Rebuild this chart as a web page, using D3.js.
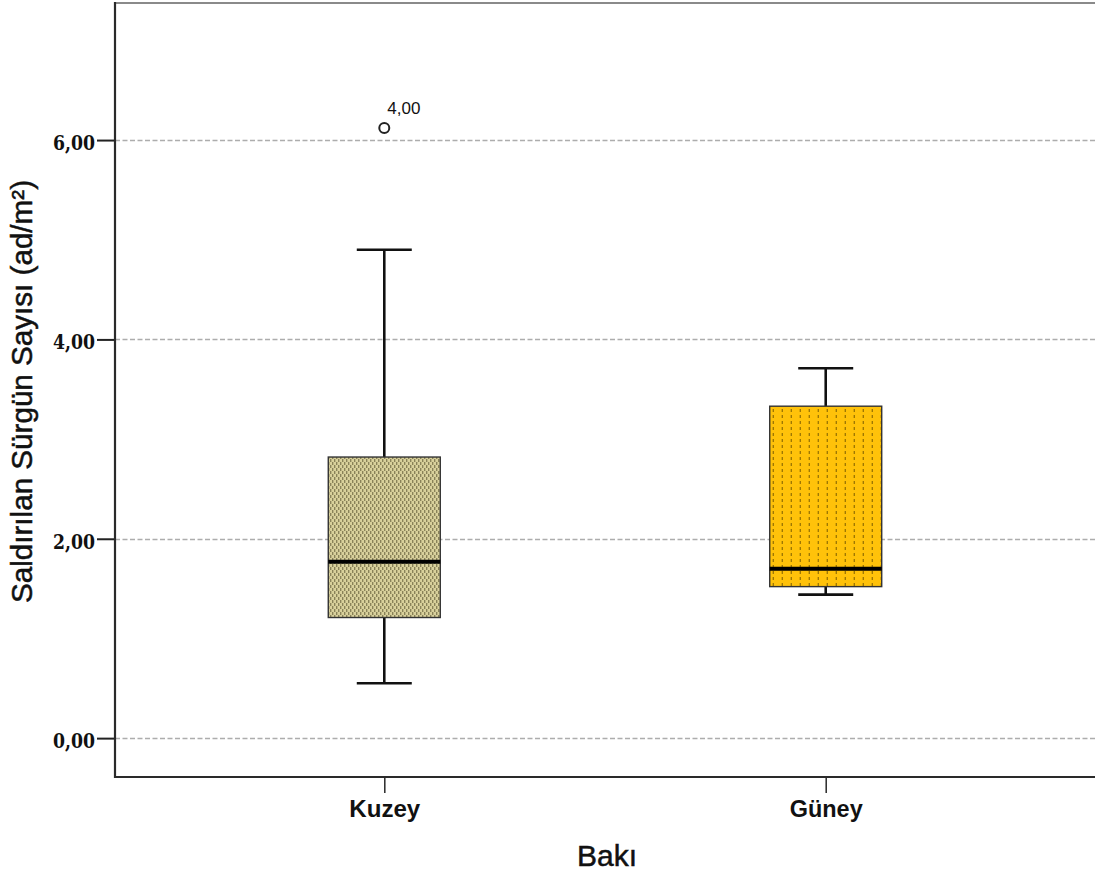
<!DOCTYPE html>
<html>
<head>
<meta charset="utf-8">
<script src="https://cdn.jsdelivr.net/npm/d3@7/dist/d3.min.js"></script>
<style>
  html, body { margin: 0; padding: 0; background: #fff; }
  svg { display: block; }
</style>
</head>
<body>
<svg id="chart" width="1095" height="877"></svg>
<script>
// Box-plot summary per aspect (Bakı)
const categories = ["Kuzey", "Güney"];
const whiskerLow  = [0.55, 1.44];
const q1          = [1.21, 1.52];
const median      = [1.77, 1.70];
const q3          = [2.82, 3.33];
const whiskerHigh = [4.90, 3.71];
// Outliers: category, value, case label
const outlierCat   = ["Kuzey"];
const outlierValue = [6.12];
const outlierLabel = ["4,00"];
// Axis ticks
const yTicks = [0, 2, 4, 6];

const svg = d3.select("#chart");
const plotLeft = 115, plotRight = 1095, plotTop = 3, plotBottom = 777;

const x = d3.scalePoint().domain(categories).range([plotLeft, plotRight]).padding(0.61);
const y = d3.scaleLinear().domain([-0.39, 7.375]).range([plotBottom, plotTop]);
const fmt = v => d3.format(".2f")(v).replace(".", ",");

// Fill patterns for the two boxes
const defs = svg.append("defs");
const pK = defs.append("pattern").attr("id", "patKuzey")
  .attr("patternUnits", "userSpaceOnUse").attr("width", 4).attr("height", 6);
pK.append("rect").attr("width", 4).attr("height", 6).attr("fill", "#d8d09b");
pK.append("rect").attr("x", 0).attr("y", 0).attr("width", 1).attr("height", 3).attr("fill", "#6a6440");
pK.append("rect").attr("x", 2).attr("y", 3).attr("width", 1).attr("height", 3).attr("fill", "#6a6440");

const pG = defs.append("pattern").attr("id", "patGuney")
  .attr("patternUnits", "userSpaceOnUse").attr("width", 9).attr("height", 6)
  .attr("patternTransform", "translate(6,0)");
pG.append("rect").attr("width", 9).attr("height", 6).attr("fill", "#ffc20a");
pG.append("rect").attr("x", 4).attr("y", 1).attr("width", 1).attr("height", 3).attr("fill", "#7a5c00");

const fills = { "Kuzey": "url(#patKuzey)", "Güney": "url(#patGuney)" };

// Grid lines
svg.append("g").selectAll("line").data(yTicks).join("line")
  .attr("x1", plotLeft).attr("x2", plotRight)
  .attr("y1", d => Math.round(y(d)) + 0.5).attr("y2", d => Math.round(y(d)) + 0.5)
  .attr("stroke", "#adadad").attr("stroke-width", 1.3)
  .attr("stroke-dasharray", "5,2.5");

// Frame: top edge
svg.append("line").attr("x1", plotLeft).attr("x2", plotRight).attr("y1", plotTop).attr("y2", plotTop)
  .attr("stroke", "#8a8a8a").attr("stroke-width", 2);

// Y axis
const yAxis = d3.axisLeft(y).tickValues(yTicks).tickFormat(fmt).tickSize(18).tickPadding(2);
const gy = svg.append("g").attr("transform", `translate(${plotLeft},0)`).call(yAxis);
gy.select(".domain").remove();
gy.selectAll(".tick line").attr("stroke", "#222").attr("stroke-width", 2);
gy.selectAll(".tick text")
  .attr("font-family", "'DejaVu Serif', serif").attr("font-weight", "bold")
  .attr("font-size", 20).attr("fill", "#111").attr("dy", "0.47em")
  .attr("textLength", 42).attr("lengthAdjust", "spacingAndGlyphs");
svg.append("line").attr("x1", plotLeft).attr("x2", plotLeft).attr("y1", plotTop - 1).attr("y2", plotBottom + 1)
  .attr("stroke", "#2a2a2a").attr("stroke-width", 2.2);

// X axis
const xAxis = d3.axisBottom(x).tickSize(16);
const gx = svg.append("g").attr("transform", `translate(0,${plotBottom})`).call(xAxis);
gx.select(".domain").remove();
gx.selectAll(".tick line").attr("stroke", "#333").attr("stroke-width", 1.6);
gx.selectAll(".tick text")
  .attr("font-family", "'Liberation Sans', Arial, sans-serif")
  .attr("font-weight", "bold").attr("font-size", 23).attr("fill", "#111")
  .attr("y", 40).attr("dy", 0)
  .attr("textLength", d => d === "Kuzey" ? 71 : 73).attr("lengthAdjust", "spacingAndGlyphs");
svg.append("line").attr("x1", plotLeft - 1).attr("x2", plotRight).attr("y1", plotBottom).attr("y2", plotBottom)
  .attr("stroke", "#2a2a2a").attr("stroke-width", 2.2);

// Axis titles
svg.append("text").attr("x", 607).attr("y", 866)
  .attr("text-anchor", "middle")
  .attr("font-family", "'Liberation Sans', Arial, sans-serif")
  .attr("font-size", 29).attr("fill", "#111")
  .attr("stroke", "#111").attr("stroke-width", 0.5)
  .attr("textLength", 60).attr("lengthAdjust", "spacingAndGlyphs").text("Bakı");
svg.append("text").attr("transform", `translate(32,${(180 + 603) / 2}) rotate(-90)`)
  .attr("text-anchor", "middle")
  .attr("font-family", "'Liberation Sans', Arial, sans-serif")
  .attr("font-size", 29).attr("fill", "#111")
  .attr("stroke", "#111").attr("stroke-width", 0.5)
  .attr("textLength", 423).attr("lengthAdjust", "spacingAndGlyphs")
  .text("Saldırılan Sürgün Sayısı (ad/m²)");

// Boxes and whiskers
const boxW = 112, capW = 55;
const stats = categories.map((c, i) => ({
  cat: c, lo: whiskerLow[i], q1: q1[i], med: median[i], q3: q3[i], hi: whiskerHigh[i]
}));
const g = svg.append("g").selectAll("g").data(stats).join("g")
  .attr("transform", d => `translate(${x(d.cat)},0)`);

g.append("line").attr("x1", 0).attr("x2", 0)
  .attr("y1", d => y(d.hi)).attr("y2", d => y(d.q3))
  .attr("stroke", "#111").attr("stroke-width", 2.6);
g.append("line").attr("x1", 0).attr("x2", 0)
  .attr("y1", d => y(d.q1)).attr("y2", d => y(d.lo))
  .attr("stroke", "#111").attr("stroke-width", 2.6);
g.append("line").attr("x1", -capW / 2).attr("x2", capW / 2)
  .attr("y1", d => y(d.hi)).attr("y2", d => y(d.hi))
  .attr("stroke", "#111").attr("stroke-width", 2.6);
g.append("line").attr("x1", -capW / 2).attr("x2", capW / 2)
  .attr("y1", d => y(d.lo)).attr("y2", d => y(d.lo))
  .attr("stroke", "#111").attr("stroke-width", 2.6);

g.append("rect").attr("x", -boxW / 2).attr("width", boxW)
  .attr("y", d => y(d.q3)).attr("height", d => y(d.q1) - y(d.q3))
  .attr("fill", d => fills[d.cat]).attr("stroke", "#333").attr("stroke-width", 1.4);

g.append("line").attr("x1", -boxW / 2).attr("x2", boxW / 2)
  .attr("y1", d => y(d.med)).attr("y2", d => y(d.med))
  .attr("stroke", "#000").attr("stroke-width", 4);

// Outliers with case labels
const outliers = outlierCat.map((c, i) => ({ cat: c, v: outlierValue[i], label: outlierLabel[i] }));
const go = svg.append("g").selectAll("g").data(outliers).join("g");
go.append("circle").attr("cx", d => x(d.cat)).attr("cy", d => y(d.v)).attr("r", 5)
  .attr("fill", "#fff").attr("stroke", "#222").attr("stroke-width", 2);
go.append("text").attr("x", d => x(d.cat) + 3).attr("y", d => y(d.v) - 14)
  .attr("font-family", "'Liberation Sans', Arial, sans-serif").attr("font-size", 17)
  .attr("fill", "#111").text(d => d.label);
</script>
</body>
</html>
